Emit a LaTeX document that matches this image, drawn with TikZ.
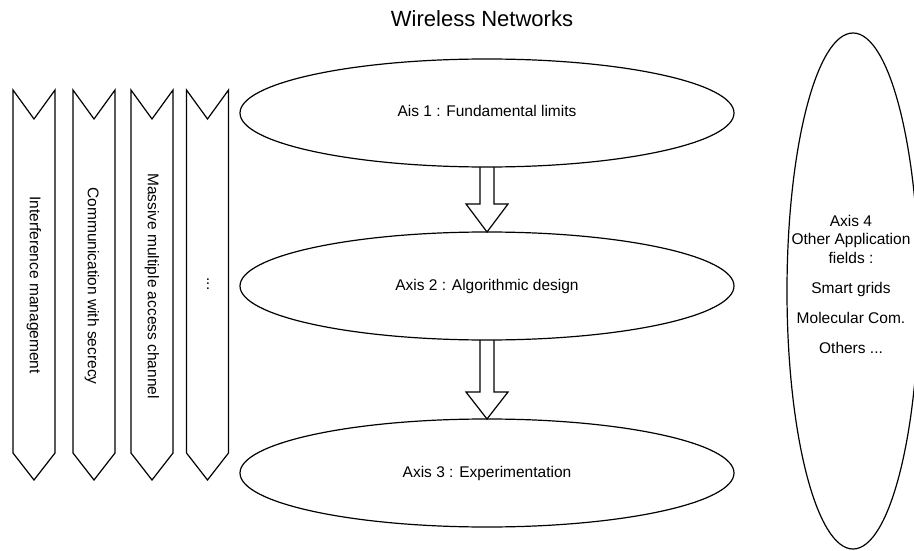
\documentclass[tikz,border=0pt]{standalone}
\usepackage{fontspec}
\setmainfont{Liberation Sans}
\usetikzlibrary{shapes.geometric,calc}
\begin{document}
\begin{tikzpicture}[x=1pt,y=-1pt,
  lbl/.style={font=\fontsize{15.5}{18.5}\selectfont,inner sep=0pt},
  oval/.style={draw,ellipse,line width=1.2pt,minimum width=494pt,minimum height=108pt,inner sep=0pt,outer sep=0pt,
    font=\fontsize{15.5}{18.5}\selectfont,text height=11pt,text depth=3pt},
  chev/.style={draw,line width=1.2pt,line join=miter},
  barrow/.style={draw,line width=1.2pt,line join=miter}]
\useasboundingbox (0,0) rectangle (914,551);
\clip (0,0) rectangle (914,551);
\node[font=\fontsize{22}{26}\selectfont,inner sep=0pt] (title) at (482,19) {Wireless Networks};
% main axes
\node[oval] (a1) at (487,113) {Ais 1 : Fundamental limits};
\node[oval] (a2) at (487,286) {Axis 2 : Algorithmic design};
\node[oval] (a3) at (487,473) {Axis 3 : Experimentation};
% block arrows
\draw[barrow] ($(a1.south)+(-7pt,0pt)$) -- ($(a2.north)+(-7pt,28pt)$) -- ($(a2.north)+(-21pt,28pt)$) -- (a2.north)
  -- ($(a2.north)+(21pt,28pt)$) -- ($(a2.north)+(7pt,28pt)$) -- ($(a1.south)+(7pt,0pt)$);
\draw[barrow] ($(a2.south)+(-7pt,0pt)$) -- ($(a3.north)+(-7pt,27pt)$) -- ($(a3.north)+(-21pt,27pt)$) -- (a3.north)
  -- ($(a3.north)+(21pt,27pt)$) -- ($(a3.north)+(7pt,27pt)$) -- ($(a2.south)+(7pt,0pt)$);
% chevrons
\foreach \cx in {34,94,152,207.5}{
  \draw[chev] ({\cx-21},90) -- (\cx,119) -- ({\cx+21},90) -- ({\cx+21},453) -- (\cx,480) -- ({\cx-21},453) -- cycle;
}
\node[lbl,rotate=-90] (t1) at (34,285) {Interference management};
\node[lbl,rotate=-90] (t2) at (92,286) {Communication with secrecy};
\node[lbl,rotate=-90] (t3) at (152,286) {Massive multiple access channel};
\node[lbl,rotate=-90] (t4) at (208,284) {...};
% axis 4
\node[draw,ellipse,line width=1.2pt,minimum width=132pt,minimum height=516pt,inner sep=0pt] (a4) at (853,291) {};
\node[lbl,align=center] (a4t) at (851,284) {Axis 4\\Other Application\\fields :\\[11.5pt]Smart grids\\[11.5pt]Molecular Com.\\[11.5pt]Others ...};
\end{tikzpicture}
\end{document}
